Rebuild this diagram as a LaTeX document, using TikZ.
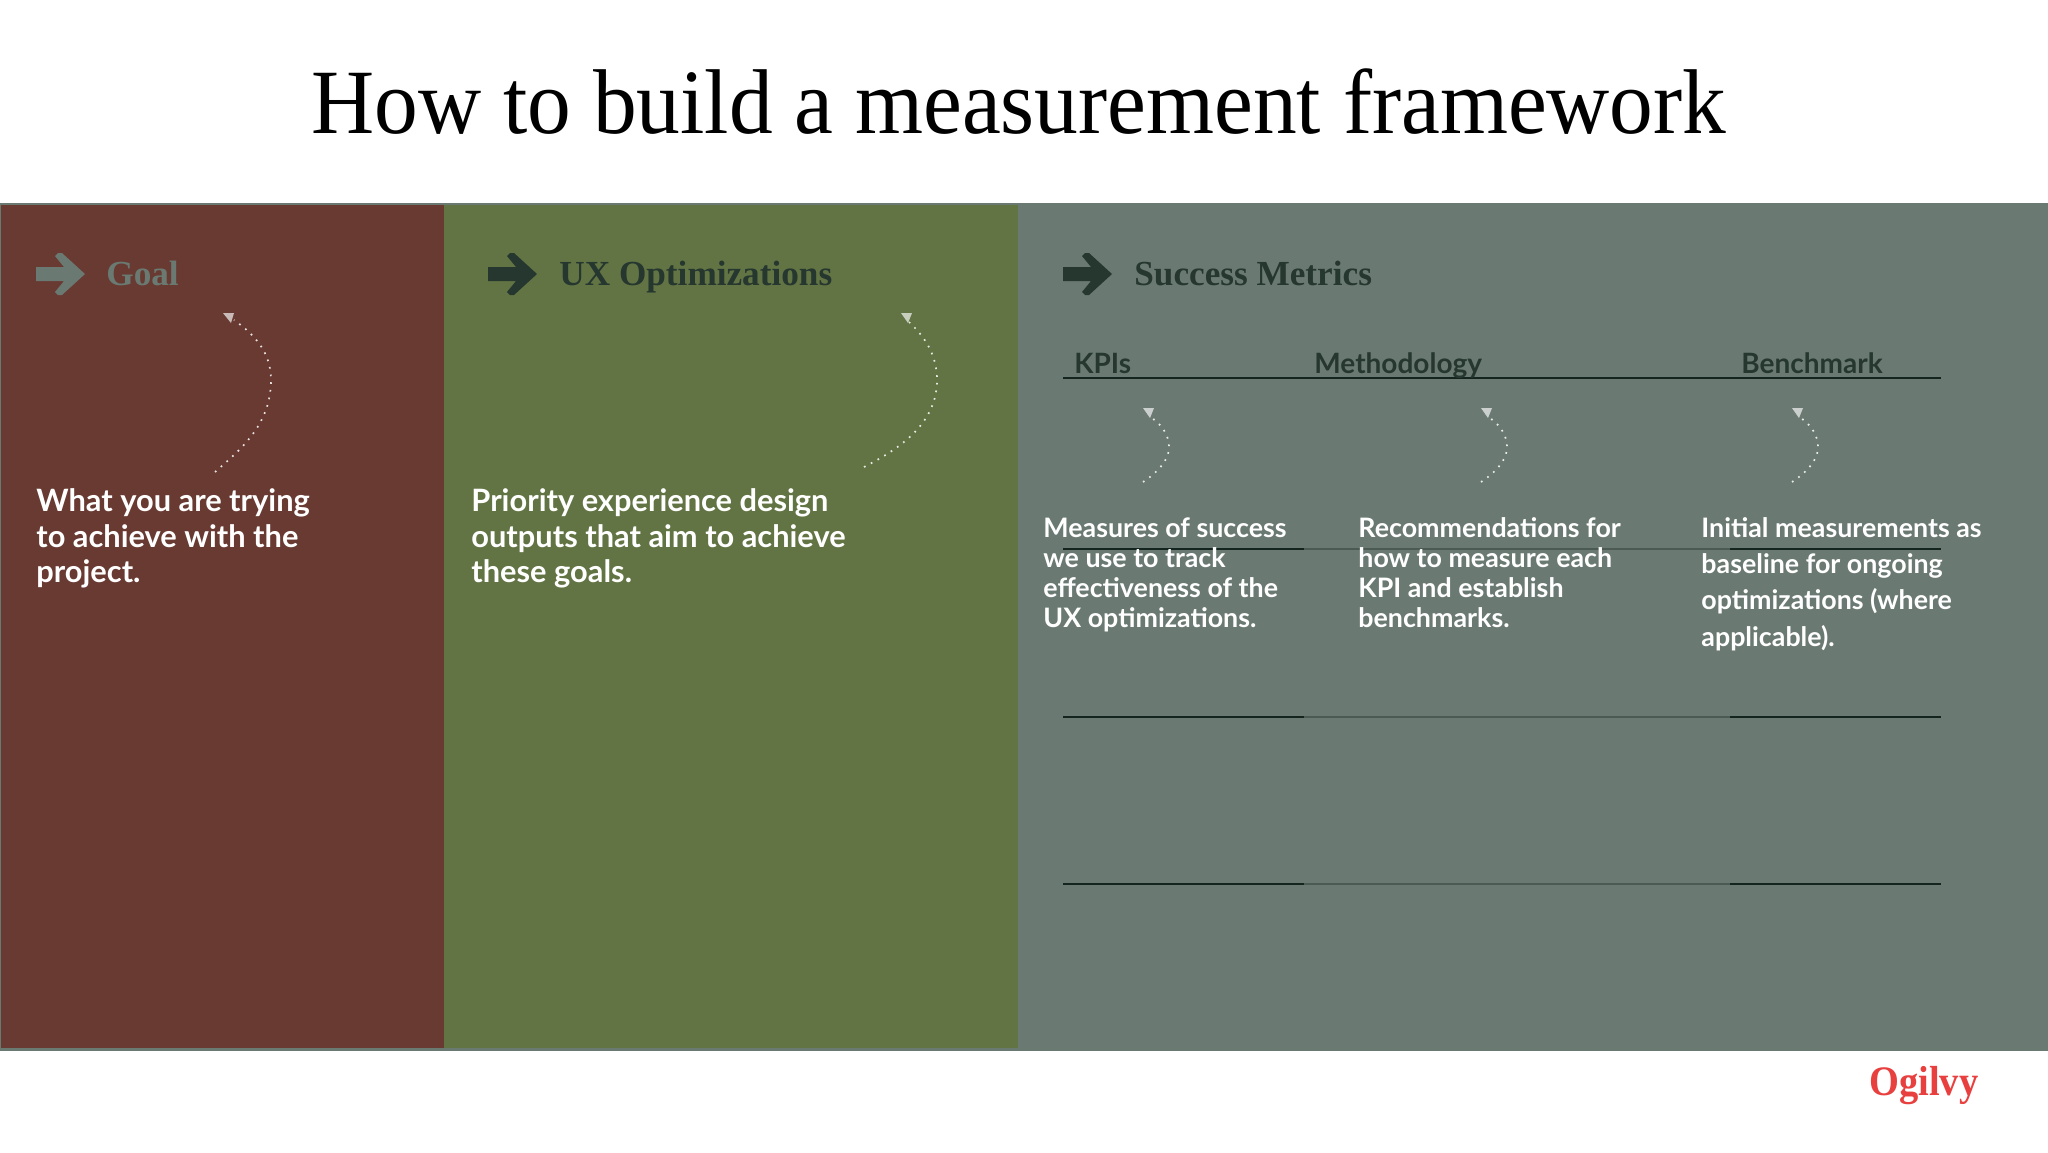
\documentclass[tikz,border=0pt]{standalone}
\usepackage{fontspec}
\setmainfont{Liberation Serif}
\newfontfamily\bodyfont{Lato}
\newfontfamily\titlefont[FakeStretch=0.95]{Liberation Serif}
\newfontfamily\logofont[FakeStretch=0.915]{Liberation Serif}
\definecolor{slate}{HTML}{6A7A72}
\definecolor{brick}{HTML}{683A32}
\definecolor{moss}{HTML}{627443}
\definecolor{ink}{HTML}{25372F}
\definecolor{rulink}{HTML}{14241E}
\definecolor{ruledim}{HTML}{4B5B53}
\definecolor{logored}{HTML}{E8403F}
\tikzset{
  txt/.style={inner sep=0pt,anchor=base west},
  titletxt/.style={txt,font=\titlefont\fontsize{46}{50}\selectfont,text=black},
  headtxt/.style={txt,font=\fontsize{17.6}{20}\selectfont\bfseries,text=ink},
  colhead/.style={txt,font=\bodyfont\fontsize{14}{16}\selectfont\bfseries,text=ink},
  bigbody/.style={txt,font=\bodyfont\fontsize{15.4}{18}\selectfont\bfseries,text=white},
  smallbody/.style={txt,font=\bodyfont\fontsize{13.4}{15}\selectfont\bfseries,text=white},
  rulestrong/.style={draw=rulink,line width=1pt},
  ruleweak/.style={draw=ruledim,line width=1pt},
  dotarc/.style={line width=0.85pt,dash pattern=on 0.85pt off 3pt},
  headarrow/.pic={\fill[pic actions] (0,-7)--(28,-7)--(19,-18)--(22,-21)--(26,-21)--(49,0)--(26,21)--(22,21)--(19,18)--(28,7)--(0,7)--cycle;},
}
\begin{document}
\begin{tikzpicture}[x=0.5pt,y=-0.5pt]
\useasboundingbox (0,0) rectangle (2048,1152);
\fill[white] (0,0) rectangle (2048,1152);
\fill[slate] (0,203) rectangle (2048,1051);
\fill[brick] (1,205) rectangle (444,1048);
\fill[moss] (444,205) rectangle (1018,1048);

\node[titletxt] (title) at (311,133) {How to build a measurement framework};

\pic[fill=slate] at (36,274) {headarrow};
\pic[fill=ink] at (488,274) {headarrow};
\pic[fill=ink] at (1063,274) {headarrow};
\node[headtxt,text=slate] (goal) at (106,285) {Goal};
\node[headtxt] (ux) at (559,285) {UX Optimizations};
\node[headtxt] (success) at (1134,285) {Success Metrics};

% rules
\coordinate (r0a) at (1063,378); \coordinate (r0b) at (1941,378);
\draw[rulestrong] (r0a) -- (r0b);
\foreach \y/\n in {549/a,717/b,884/c}{
  \coordinate (l\n) at (1063,\y);
  \coordinate (m\n) at (1304,\y);
  \coordinate (k\n) at (1730,\y);
  \coordinate (e\n) at (1941,\y);
  \draw[ruleweak] (m\n) -- (k\n);
  \draw[rulestrong] (l\n) -- (m\n);
  \draw[rulestrong] (k\n) -- (e\n);
}

\node[colhead] (kpi) at (1074,373) {KPIs};
\node[colhead] (meth) at (1314,373) {Methodology};
\node[colhead] (bench) at (1741,373) {Benchmark};

% left bodies
\node[bigbody] (g1) at (36,511) {What you are trying};
\node[bigbody] (g2) at (36,547) {to achieve with the};
\node[bigbody] (g3) at (36,582) {project.};
\node[bigbody] (u1) at (471,511) {Priority experience design};
\node[bigbody] (u2) at (471,547) {outputs that aim to achieve};
\node[bigbody] (u3) at (471,582) {these goals.};

% KPI body
\node[smallbody] (k1) at (1043,537) {Measures of success};
\node[smallbody] (k2) at (1043,567) {we use to track};
\node[smallbody] (k3) at (1043,597) {effectiveness of the};
\node[smallbody] (k4) at (1043,627) {UX optimizations.};
\node[smallbody] (m1) at (1358,537) {Recommendations for};
\node[smallbody] (m2) at (1358,567) {how to measure each};
\node[smallbody] (m3) at (1358,597) {KPI and establish};
\node[smallbody] (m4) at (1358,627) {benchmarks.};
\node[smallbody] (b1) at (1701,537) {Initial measurements as};
\node[smallbody] (b2) at (1701,573) {baseline for ongoing};
\node[smallbody] (b3) at (1701,609) {optimizations (where};
\node[smallbody] (b4) at (1701,646) {applicable).};

% dotted arcs
\coordinate (a1s) at (215,472); \coordinate (a1m) at (271,380); \coordinate (a1e) at (234,320);
\draw[dotarc,draw=white!85!brick] (a1s) .. controls (240,450) and (271,425) .. (a1m) .. controls (271,355) and (258,337) .. (a1e);
\fill[fill=white!65!brick] (223,313)--(234,313)--(231,323)--cycle;
\coordinate (a2s) at (864,467); \coordinate (a2m) at (937,380); \coordinate (a2e) at (909,322);
\draw[dotarc,draw=white!85!moss] (a2s) .. controls (897,450) and (937,425) .. (a2m) .. controls (937,355) and (925,337) .. (a2e);
\fill[fill=white!65!moss] (901,313)--(912,313)--(908,323)--cycle;
\foreach \dx/\n in {0/k,338/m,649/b}{
  \begin{scope}[xshift=\dx*0.5pt]
  \coordinate (s\n) at (1143,482); \coordinate (p\n) at (1169,447); \coordinate (t\n) at (1152,418);
  \draw[dotarc,draw=white!85!slate] (s\n) .. controls (1158,472) and (1169,460) .. (p\n) .. controls (1169,436) and (1163,426) .. (t\n);
  \fill[fill=white!65!slate] (1143,408)--(1154,408)--(1150,418)--cycle;
  \end{scope}
}

\node[txt,font=\logofont\fontsize{21}{24}\selectfont\bfseries,text=logored] (logo) at (1869,1095) {Ogilvy};
\end{tikzpicture}
\end{document}
